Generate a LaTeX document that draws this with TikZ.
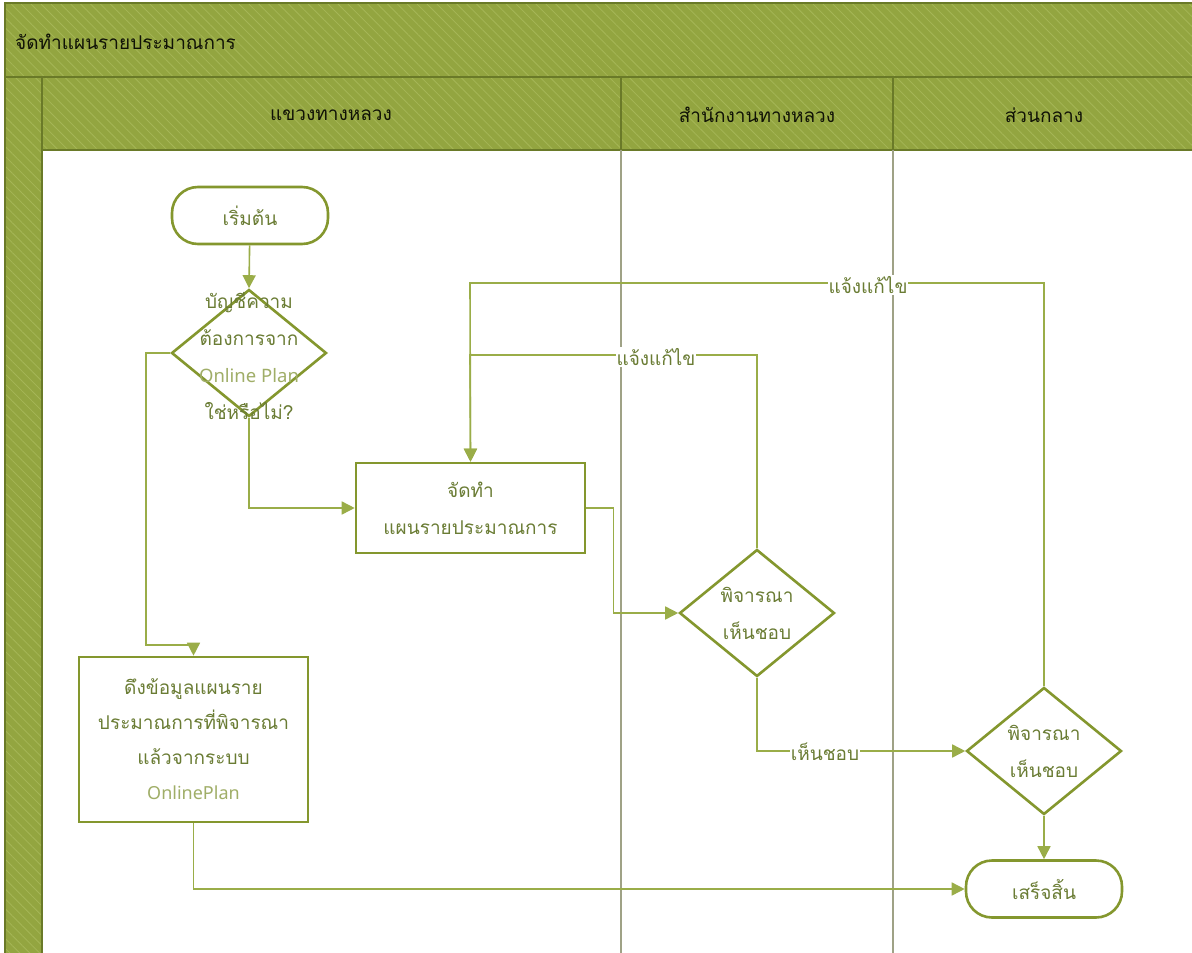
\documentclass[tikz,border=0pt]{standalone}
\usepackage{fontspec}
\setmainfont{Loma}[Script=Thai]
\newfontfamily\latinf{Noto Sans}
\usetikzlibrary{shapes.geometric,arrows.meta,patterns.meta}
\definecolor{hdr}{HTML}{93A540}
\definecolor{hatch}{HTML}{A5B657}
\definecolor{hdrline}{HTML}{6A7A28}
\definecolor{shp}{HTML}{84972E}
\definecolor{conn}{HTML}{9AAD48}
\definecolor{txt}{HTML}{6A7C34}
\definecolor{txtl}{HTML}{A0AE68}
\definecolor{lanec}{HTML}{9FA286}
\tikzset{
  hdrfill/.style={fill=hdr},
  hatchfill/.style={pattern={Lines[angle=-45,distance=7pt,line width=0.8pt]},pattern color=hatch},
  frame/.style={draw=hdrline,line width=1.4pt},
  lane/.style={draw=lanec,line width=2.6pt},
  term/.style={draw=shp,line width=2.6pt,rounded corners=26pt,minimum width=156pt,minimum height=57pt,inner sep=0pt,text=txt,font=\fontsize{19}{37}\selectfont,align=center},
  procbox/.style={draw=shp,line width=2.6pt,inner sep=0pt,text=txt,font=\fontsize{19}{37}\selectfont,align=center},
  dec/.style={draw=shp,line width=2.6pt,diamond,inner sep=0pt,minimum width=155pt,minimum height=127pt},
  dectext/.style={text=txt,font=\fontsize{19}{37}\selectfont,align=center,inner sep=0pt},
  conn/.style={draw=conn,line width=1.6pt,-{Triangle[length=13pt,width=13pt]},shorten >=0pt},
  lbl/.style={fill=white,text=txt,font=\fontsize{19}{22}\selectfont,inner sep=1pt},
  hdrtext/.style={text=black!85!hdrline,font=\fontsize{19}{22}\selectfont,inner sep=0pt}
}
\begin{document}
\begin{tikzpicture}[x=1pt,y=-1pt]
\useasboundingbox (0,0) rectangle (1192,953);
\fill[white] (0,0) rectangle (1192,953);
% headers
\fill[hdrfill] (5,3) rectangle (1196,77);
\fill[hdrfill] (42,77) rectangle (1196,150);
\fill[hdrfill] (5,77) rectangle (42,956);
\fill[hatchfill] (5,3) rectangle (1196,77);
\fill[hatchfill] (42,77) rectangle (1196,150);
\fill[hatchfill] (5,77) rectangle (42,956);
\draw[frame] (5,956) -- (5,3) -- (1196,3);
\draw[frame] (5,77) -- (1196,77);
\draw[frame] (42,150) -- (1196,150);
\draw[frame] (42,77) -- (42,956);
\draw[frame] (621,77) -- (621,150);
\draw[frame] (893,77) -- (893,150);
\node[hdrtext,anchor=west] (title) at (15,42) {จัดทำแผนรายประมาณการ};
\node[hdrtext] (lane1) at (331,115) {แขวงทางหลวง};
\node[hdrtext] (lane2) at (757,115) {สำนักงานทางหลวง};
\node[hdrtext] (lane3) at (1044,115) {ส่วนกลาง};
% lane dividers
\draw[lane] (621,150) -- (621,956);
\draw[lane] (893,150) -- (893,956);
% nodes
\node[term] (start) at (250,215.5) {เริ่มต้น};
\node[dec] (d1) at (249,353) {};
\node[dectext] (d1t) at (249,356) {บัญชีความ\\ต้องการจาก\\{\color{txtl}\latinf\fontsize{18.5}{37}\selectfont Online Plan}\\ใช่หรือไม่?};
\node[procbox,minimum width=229pt,minimum height=90pt] (box1) at (470.5,508) {จัดทำ\\แผนรายประมาณการ};
\node[dec] (d2) at (757,613) {};
\node[dectext] (d2t) at (757,613) {พิจารณา\\เห็นชอบ};
\node[dec] (d3) at (1044,751) {};
\node[dectext] (d3t) at (1044,751) {พิจารณา\\เห็นชอบ};
\node[term] (end) at (1044,889) {เสร็จสิ้น};
\node[procbox,minimum width=229pt,minimum height=165pt,font=\fontsize{19}{35}\selectfont] (box2) at (193.5,739.5) {ดึงข้อมูลแผนราย\\ประมาณการที่พิจารณา\\แล้วจากระบบ\\{\color{txtl}\latinf\fontsize{18}{35}\selectfont OnlinePlan}};
% junction coordinates
\coordinate (j1) at (470,355);
\coordinate (j2) at (470,283);
\coordinate (k1) at (146,645);
% connectors
\draw[conn] (start) -- (d1.north);
\draw[conn] (d1.south) |- (box1.west);
\draw[conn] (d1.west) -| (k1) -| (box2.north);
\draw[conn] (box1.east) -- ++(27,0) |- (d2.west);
\draw[conn] (d2.north) |- (j1) -- (box1.north);
\draw[conn] (d3.north) |- (j2) -- (box1.north);
\draw[conn] (d2.south) |- (d3.west);
\draw[conn] (d3.south) -- (end.north);
\draw[conn] (box2.south) |- (end.west);
% labels
\node[lbl] (l1) at (868,285) {แจ้งแก้ไข};
\node[lbl] (l2) at (656,357) {แจ้งแก้ไข};
\node[lbl] (l3) at (825,752) {เห็นชอบ};
\end{tikzpicture}
\end{document}
